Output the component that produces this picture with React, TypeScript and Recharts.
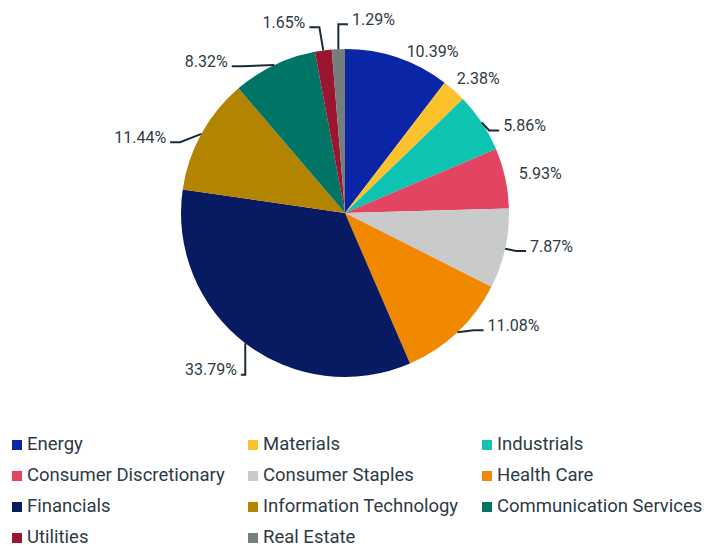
import React from "react";
import { PieChart, Pie, Cell, Legend } from "recharts";

const sectors = [
  "Energy",
  "Materials",
  "Industrials",
  "Consumer Discretionary",
  "Consumer Staples",
  "Health Care",
  "Financials",
  "Information Technology",
  "Communication Services",
  "Utilities",
  "Real Estate",
];
const weights = [10.39, 2.38, 5.86, 5.93, 7.87, 11.08, 33.79, 11.44, 8.32, 1.65, 1.29];
const colors = [
  "#0a26a6",
  "#fcc22e",
  "#0cc4b1",
  "#e34462",
  "#c9cbcb",
  "#f08800",
  "#071a62",
  "#b38400",
  "#007566",
  "#9a1630",
  "#767d7d",
];
// label placement nudges (style only), relative to the default label point
const labelNudgeX = [2, -12, 3, -8, 3.5, 15, 5, -16, -37, -15, 14.5];
const labelNudgeY = [15, 4, 15, -0.5, -7.5, -23, 9, 14, 16, -6.5, -8];

const data = sectors.map((name, i) => ({ name, value: weights[i] }));

const RAD = Math.PI / 180;
const TEXT = "#2d3a45";

const renderLabel = (props: any) => {
  const { cx, cy, midAngle, outerRadius, value, index } = props;
  const cos = Math.cos(-midAngle * RAD);
  const sin = Math.sin(-midAngle * RAD);
  const right = cos >= -0.05;
  const R = outerRadius + 22;
  const tx = cx + R * cos + labelNudgeX[index];
  const ty = cy + R * sin + labelNudgeY[index];
  const edgeX = cx + outerRadius * cos;
  const edgeY = cy + outerRadius * sin;
  const lx = right ? tx - 4 : tx + 4;
  const ly = ty + 5;
  const elbowX = right ? Math.max(lx - 10, edgeX) : Math.min(lx + 10, edgeX);
  const dist = Math.hypot(lx - edgeX, ly - edgeY);
  return (
    <g>
      {dist >= 15 && (
        <polyline
          points={`${lx},${ly} ${elbowX},${ly} ${edgeX},${edgeY}`}
          fill="none"
          stroke="#1c2b3a"
          strokeWidth={2}
        />
      )}
      <text
        x={tx}
        y={ty}
        textAnchor={right ? "start" : "end"}
        dominantBaseline="central"
        fill={TEXT}
        fontSize={16}
        fontFamily="Roboto"
      >
        {`${value.toFixed(2)}%`}
      </text>
    </g>
  );
};

const renderLegend = () => (
  <div
    style={{
      display: "grid",
      gridTemplateColumns: "236px 234px 222px",
      rowGap: 0,
      fontFamily: "Roboto",
      fontSize: 18.5,
      lineHeight: 1,
      color: TEXT,
    }}
  >
    {sectors.map((s, i) => (
      <div
        key={s}
        style={{ display: "flex", alignItems: "center", height: 31, whiteSpace: "nowrap" }}
      >
        <span
          style={{
            display: "inline-block",
            width: 10,
            height: 10,
            background: colors[i],
            marginRight: 5,
          }}
        />
        {s}
      </div>
    ))}
  </div>
);

export default function App() {
  return (
    <div style={{ position: "absolute", left: 0, top: 0, width: 704, height: 546, background: "#fff", overflow: "hidden" }}>
      <style>{`.recharts-pie-sectors { filter: drop-shadow(0px 0px 3px rgba(0,0,0,0.25)); }`}</style>
      <PieChart width={704} height={546} margin={{ top: 0, right: 0, bottom: 0, left: 0 }}>
        <Pie
          data={data}
          dataKey="value"
          nameKey="name"
          cx={345}
          cy={213}
          outerRadius={164}
          startAngle={90}
          endAngle={-270}
          stroke="none"
          label={renderLabel}
          labelLine={false}
          isAnimationActive={false}
        >
          {data.map((d, i) => (
            <Cell key={d.name} fill={colors[i]} />
          ))}
        </Pie>
        <Legend
          content={renderLegend}
          wrapperStyle={{ position: "absolute", left: 12, top: 429, width: 700, bottom: "auto" }}
        />
      </PieChart>
    </div>
  );
}
